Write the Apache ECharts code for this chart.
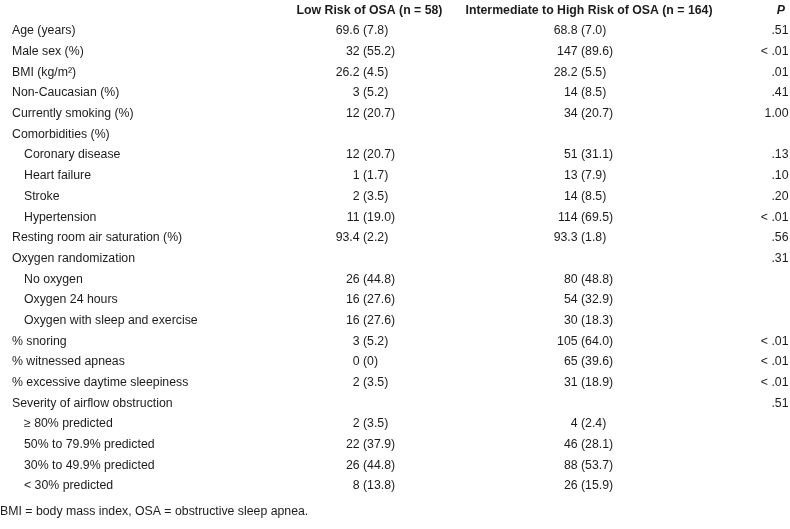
<!DOCTYPE html>
<html>
<head>
<meta charset="utf-8">
<script src="https://cdn.jsdelivr.net/npm/echarts@6/dist/echarts.min.js"></script>
<style>html,body{margin:0;padding:0;background:#fff}#c{width:790px;height:529px}</style>
</head>
<body>
<div id="c"></div>
<script>
const columnHeaders = ['', 'Low Risk of OSA (n = 58)', 'Intermediate to High Risk of OSA (n = 164)', 'P'];
const rowLabels = [
  'Age (years)', 'Male sex (%)', 'BMI (kg/m\u00b2)', 'Non-Caucasian (%)', 'Currently smoking (%)',
  'Comorbidities (%)', 'Coronary disease', 'Heart failure', 'Stroke', 'Hypertension',
  'Resting room air saturation (%)', 'Oxygen randomization', 'No oxygen', 'Oxygen 24 hours',
  'Oxygen with sleep and exercise', '% snoring', '% witnessed apneas', '% excessive daytime sleepiness',
  'Severity of airflow obstruction', '\u2265 80% predicted', '50% to 79.9% predicted',
  '30% to 49.9% predicted', '< 30% predicted'
];
const rowLevels = [0,0,0,0,0, 0,1,1,1,1, 0,0,1,1,1, 0,0,0, 0,1,1,1,1];
const lowRisk = [
  '69.6 (7.8)', '32 (55.2)', '26.2 (4.5)', '3 (5.2)', '12 (20.7)',
  '', '12 (20.7)', '1 (1.7)', '2 (3.5)', '11 (19.0)',
  '93.4 (2.2)', '', '26 (44.8)', '16 (27.6)', '16 (27.6)',
  '3 (5.2)', '0 (0)', '2 (3.5)', '', '2 (3.5)', '22 (37.9)', '26 (44.8)', '8 (13.8)'
];
const highRisk = [
  '68.8 (7.0)', '147 (89.6)', '28.2 (5.5)', '14 (8.5)', '34 (20.7)',
  '', '51 (31.1)', '13 (7.9)', '14 (8.5)', '114 (69.5)',
  '93.3 (1.8)', '', '80 (48.8)', '54 (32.9)', '30 (18.3)',
  '105 (64.0)', '65 (39.6)', '31 (18.9)', '', '4 (2.4)', '46 (28.1)', '88 (53.7)', '26 (15.9)'
];
const pValues = [
  '.51', '< .01', '.01', '.41', '1.00',
  '', '.13', '.10', '.20', '< .01',
  '.56', '.31', '', '', '',
  '< .01', '< .01', '< .01', '.51', '', '', '', ''
];
const footnote = 'BMI = body mass index, OSA = obstructive sleep apnea.';

// layout (styles only)
const FONT = '"Liberation Sans", Arial, sans-serif';
const FS = 12.3;
const INK = '#1c1c1c';
const LABEL_X = [12, 24];
const COL2_ANCHOR = 363, COL3_ANCHOR = 581, P_RIGHT = 788.5;
const HDR2_CENTER = 369.5, HDR3_CENTER = 589, HDR_P_RIGHT = 785;
const ROW_H = 20.88;

const rowKeys = ['header'].concat(rowLabels.map((_, i) => 'r' + i));

function splitCell(s) {
  const k = s.indexOf(' (');
  if (k < 0) return [s, ''];
  return [s.slice(0, k) + ' ', s.slice(k + 1)];
}

function renderItem(params, api) {
  const r = api.value(1);
  const y = api.coord([0, r])[1];
  const X = v => api.coord([v, r])[0];
  const kids = [];
  const txt = (x, text, align, weight, fstyle) => {
    if (!text) return;
    kids.push({
      type: 'text',
      style: {
        x: x, y: y, text: text, align: align, verticalAlign: 'middle',
        fill: INK, fontFamily: FONT, fontSize: FS,
        fontWeight: weight || 'normal', fontStyle: fstyle || 'normal'
      }
    });
  };
  if (r === 0) {
    txt(X(HDR2_CENTER), columnHeaders[1], 'center', 'bold');
    txt(X(HDR3_CENTER), columnHeaders[2], 'center', 'bold');
    txt(X(HDR_P_RIGHT), columnHeaders[3], 'right', 'bold', 'italic');
  } else {
    const i = r - 1;
    txt(X(LABEL_X[rowLevels[i]]), rowLabels[i], 'left');
    const a = splitCell(lowRisk[i]);
    txt(X(COL2_ANCHOR), a[0], 'right');
    txt(X(COL2_ANCHOR), a[1], 'left');
    const b = splitCell(highRisk[i]);
    txt(X(COL3_ANCHOR), b[0], 'right');
    txt(X(COL3_ANCHOR), b[1], 'left');
    txt(X(P_RIGHT), pValues[i], 'right');
  }
  return { type: 'group', children: kids };
}

const chart = echarts.init(document.getElementById('c'), null, { renderer: 'canvas' });
chart.setOption({
  animation: false,
  backgroundColor: '#ffffff',
  grid: { left: 0, right: 0, top: -4.8, height: 24 * ROW_H },
  xAxis: { type: 'value', min: 0, max: 790, show: false },
  yAxis: { type: 'category', data: rowKeys, inverse: true, show: false },
  series: [{
    type: 'custom',
    silent: true,
    renderItem: renderItem,
    encode: { x: 0, y: 1 },
    data: rowKeys.map((_, i) => [0, i])
  }],
  graphic: [{
    type: 'text',
    left: 0,
    top: 506,
    style: { text: footnote, fill: INK, fontFamily: FONT, fontSize: FS }
  }]
});
</script>
</body>
</html>
